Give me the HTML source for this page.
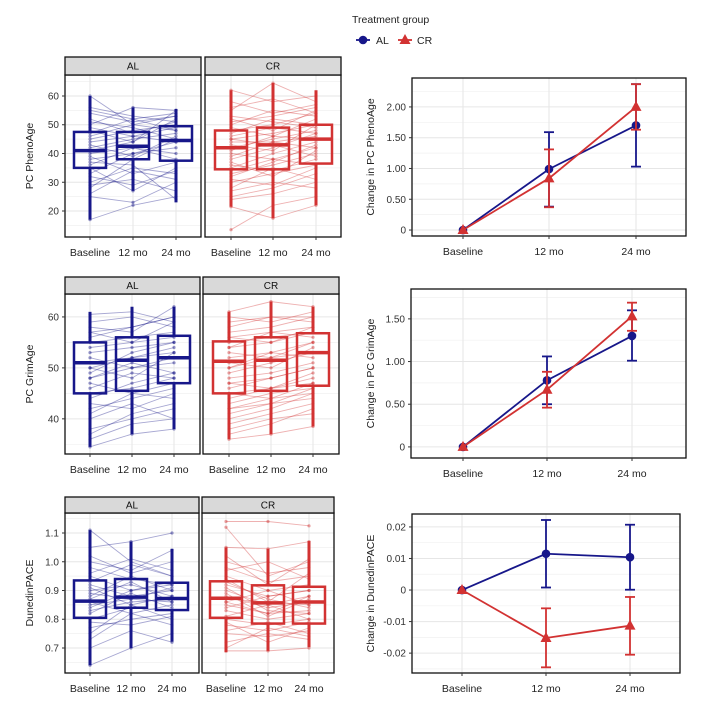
<!DOCTYPE html>
<html><head><meta charset="utf-8"><style>
html,body{margin:0;padding:0;background:#fff;width:717px;height:703px;overflow:hidden}
svg{display:block;font-family:"Liberation Sans",sans-serif}
</style></head><body>
<svg id="c" width="717" height="703" viewBox="0 0 717 703"></svg>
<script>
const timepoints=["Baseline","12 mo","24 mo"];
// box stats: [q1, median, q3, whiskerLow, whiskerHigh]
const phenoALBox=[[35,41,47.5,17,60],[38,42.5,47.5,27,56],[37.5,44.5,49.5,23,55.5]];
const phenoCRBox=[[34.5,42,48,21.5,62],[34.5,43,49,17.5,64.5],[36.5,45,50,22,62]];
const grimALBox=[[45,51,55,34.5,61],[45.5,51.5,56,37,62],[47,52,56.3,38,62]];
const grimCRBox=[[45,51.3,55.2,36,61],[45.5,51.5,56,37,63],[46.5,53,56.8,38.5,62]];
const dunALBox=[[.805,.863,.935,.64,1.11],[.84,.877,.94,.70,1.07],[.832,.872,.927,.722,1.045]];
const dunCRBox=[[.805,.873,.932,.685,1.05],[.785,.857,.918,.69,1.045],[.785,.86,.913,.703,1.072]];
// individual trajectories
const phenoALSubj=[[60,50,48],[17,22,25],[55,52,54],[25,23,30],[45,48,50],[38,40,44],[30,35,33],[50,56,55],[42,45,47],[35,27,35],[48,44,52],[40,42,38],[28,38,45],[52,47,51],[33,40,42],[46,50,53],[37,36,24],[44,46,49],[56,53,51],[29,31,27],[43,39,46],[51,49,45],[36,42,40],[47,52,48],[32,29,34],[41,44,55],[54,51,53],[39,33,37],[49,46,44],[26,34,31]];
const phenoCRSubj=[[62,58,60],[13.5,22,25],[21.5,17.5,22],[50,55,53],[45,47,50],[35,40,44],[40,38,42],[55,64.5,58],[30,33,36],[42,45,48],[48,50,54],[27,30,28],[38,42,47],[52,48,55],[33,36,40],[44,44,46],[25,28,33],[47,52,50],[36,34,38],[41,46,45],[58,54,57],[31,29,35],[46,49,47],[53,51,49],[39,44,42],[28,35,31],[49,46,52],[34,38,36],[43,41,50],[56,59,54],[24,26,30],[37,32,41],[51,53,56],[45,43,39],[32,37,43]];
const grimALSubj=[[60.5,61,59],[34.5,37,38],[57,58,60],[45,46,48],[50,52,53],[53,54,55],[42,44,46],[48,50,51],[55,56,57],[38,40,42],[47,45,47],[51,52,54],[44,47,49],[56,58,60],[40,43,40],[52,50,52],[49,53,55],[58,57,62],[36,39,40],[43,42,45],[54,55,59],[46,49,48],[59,60,58],[41,45,44],[50,48,53],[57,55,56],[37,41,43],[48,51,49]];
const grimCRSubj=[[61,63,62],[36,37,38.5],[59,60,60],[45,46,47],[50,52,53],[54,55,57],[42,44,45],[48,49,51],[56,57,58],[39,41,43],[47,48,50],[52,53,55],[44,46,48],[57,58,60],[41,43,44],[53,52,55],[49,51,53],[38,40,41],[46,48,50],[55,56,57],[60,59,61],[43,45,46],[51,50,54],[58,60,59],[40,42,45],[47,46,49],[54,57,56],[37,39,42],[50,53,52],[45,44,47],[56,55,58],[42,43,46]];
const dunALSubj=[[1.11,1.0,0.95],[0.64,0.70,0.75],[1.05,1.07,1.1],[0.9,0.92,0.88],[0.85,0.87,0.86],[0.8,0.84,0.83],[0.95,0.9,0.93],[0.77,0.80,0.82],[0.88,0.95,0.9],[0.83,0.86,0.87],[0.7,0.76,0.72],[0.92,0.88,0.9],[1.0,0.97,1.04],[0.86,0.82,0.85],[0.93,0.99,0.95],[0.75,0.85,0.8],[0.98,0.94,0.92],[0.82,0.89,0.84],[1.02,0.96,1.0],[0.87,0.93,0.86],[0.79,0.78,0.81],[0.91,0.85,0.88],[0.96,1.01,0.97],[0.84,0.9,0.92],[0.73,0.82,0.78],[0.89,0.87,0.91]];
const dunCRSubj=[[1.14,1.14,1.125],[1.12,0.95,1.0],[0.69,0.69,0.70],[1.05,1.045,1.07],[0.9,0.85,0.88],[0.85,0.82,0.83],[0.8,0.78,0.8],[0.95,0.9,0.92],[0.75,0.74,0.76],[0.87,0.86,0.85],[0.92,0.88,0.9],[0.83,0.8,0.82],[0.78,0.76,0.79],[0.98,0.93,0.95],[0.88,0.84,0.86],[0.72,0.75,0.73],[1.0,0.96,0.98],[0.86,0.82,0.88],[0.93,0.87,0.84],[0.81,0.85,0.8],[0.97,1.0,0.94],[0.89,0.81,0.87],[0.76,0.79,0.75],[0.84,0.88,0.9],[1.02,0.92,1.01],[0.91,0.83,0.82],[0.79,0.72,0.77],[0.86,0.9,0.85],[0.94,0.86,0.96],[0.7,0.77,0.74]];
// change means with CI [mean, lo, hi]
const phenoALChange=[[0,0,0],[0.99,0.38,1.59],[1.70,1.03,2.37]];
const phenoCRChange=[[0,0,0],[0.84,0.37,1.31],[2.0,1.63,2.37]];
const grimALChange=[[0,0,0],[0.78,0.50,1.06],[1.30,1.01,1.60]];
const grimCRChange=[[0,0,0],[0.67,0.46,0.88],[1.53,1.36,1.69]];
const dunALChange=[[0,0,0],[0.0115,0.0008,0.0222],[0.0104,0.0001,0.0207]];
const dunCRChange=[[0,0,0],[-0.0152,-0.0245,-0.0058],[-0.0113,-0.0205,-0.0022]];
const phenoTicks=[20,30,40,50,60], grimTicks=[40,50,60], dunTicks=[0.7,0.8,0.9,1.0,1.1];
const phenoChTicks=[0,0.5,1,1.5,2], grimChTicks=[0,0.5,1,1.5], dunChTicks=[-0.02,-0.01,0,0.01,0.02];
const phenoChLabels=["0","0.50","1.00","1.50","2.00"], grimChLabels=["0","0.50","1.00","1.50"], dunChLabels=["-0.02","-0.01","0","0.01","0.02"];

const AL="#17178a", CR="#d23232";
const svg=document.getElementById('c');
const NS="http://www.w3.org/2000/svg";
function el(tag,attrs,parent){const e=document.createElementNS(NS,tag);for(const k in attrs)e.setAttribute(k,attrs[k]);(parent||svg).appendChild(e);return e;}
function txt(s,attrs,parent){const e=el('text',attrs,parent);e.textContent=s;return e;}
function lin(d0,d1,r0,r1){return v=>r0+(v-d0)/(d1-d0)*(r1-r0);}

function facet(g,x0,x1,top,stripTop,bottom,yD,ticks,box,subj,col,label,xs,showY,fmt,name){
  const y=lin(yD[0],yD[1],bottom,top);
  const grp=el('g',{},g);
  
  
  for(let i=0;i<ticks.length;i++){
    el('line',{x1:x0,x2:x1,y1:y(ticks[i]),y2:y(ticks[i]),stroke:'#e6e6e6','stroke-width':1},grp);
    if(i<ticks.length-1){const m=(ticks[i]+ticks[i+1])/2;el('line',{x1:x0,x2:x1,y1:y(m),y2:y(m),stroke:'#f0f0f0','stroke-width':0.7},grp);}
  }
  const lo=ticks[0]-(ticks[1]-ticks[0])/2, hi=ticks[ticks.length-1]+(ticks[1]-ticks[0])/2;
  if(lo>yD[0]) el('line',{x1:x0,x2:x1,y1:y(lo),y2:y(lo),stroke:'#f0f0f0','stroke-width':0.7},grp);
  if(hi<yD[1]) el('line',{x1:x0,x2:x1,y1:y(hi),y2:y(hi),stroke:'#f0f0f0','stroke-width':0.7},grp);
  xs.forEach(xx=>el('line',{x1:xx,x2:xx,y1:top,y2:bottom,stroke:'#e6e6e6','stroke-width':1},grp));
  subj.forEach(s=>{
    const p=el('polyline',{points:s.map((v,i)=>xs[i]+','+y(v)).join(' '),fill:'none',stroke:col,'stroke-opacity':0.38,'stroke-width':0.9},grp);
    
    
    s.forEach((v,i)=>el('circle',{cx:xs[i],cy:y(v),r:1.6,fill:col,'fill-opacity':0.45},grp));
  });
  box.forEach((b,i)=>{
    const cx=xs[i],w=16;
    el('line',{x1:cx,x2:cx,y1:y(b[3]),y2:y(b[0]),stroke:col,'stroke-width':3},grp);
    el('line',{x1:cx,x2:cx,y1:y(b[2]),y2:y(b[4]),stroke:col,'stroke-width':3},grp);
    const r=el('rect',{x:cx-w,y:y(b[2]),width:2*w,height:y(b[0])-y(b[2]),fill:'none',stroke:col,'stroke-width':2.5},grp);
    
    
    el('line',{x1:cx-w,x2:cx+w,y1:y(b[1]),y2:y(b[1]),stroke:col,'stroke-width':3.5},grp);
  });
  el('rect',{x:x0,y:top,width:x1-x0,height:bottom-top,fill:'none',stroke:'#111','stroke-width':1.3},grp);
  const st=el('rect',{x:x0,y:stripTop,width:x1-x0,height:top-stripTop,fill:'#d9d9d9',stroke:'#111','stroke-width':1.3},grp);
  
  
  txt(label,{x:(x0+x1)/2,y:(top+stripTop)/2+3.5,'text-anchor':'middle','font-size':10,fill:'#111'},grp);
  xs.forEach((xx,i)=>{
    el('line',{x1:xx,x2:xx,y1:bottom,y2:bottom+3,stroke:'#333','stroke-width':1},grp);
    txt(timepoints[i],{x:xx,y:bottom+19,'text-anchor':'middle','font-size':10.5,fill:'#222'},grp);
  });
  if(showY){
    ticks.forEach(t=>{
      el('line',{x1:x0-3,x2:x0,y1:y(t),y2:y(t),stroke:'#333','stroke-width':1},grp);
      txt(fmt(t),{x:x0-6,y:y(t)+3.5,'text-anchor':'end','font-size':10,fill:'#333'},grp);
    });
  }
}

function changePlot(x0,x1,top,bottom,yD,ticks,labels,xs,al,cr,title,name){
  const y=lin(yD[0],yD[1],bottom,top);
  const g=el('g',{});
  
  
  for(let i=0;i<ticks.length;i++){
    el('line',{x1:x0,x2:x1,y1:y(ticks[i]),y2:y(ticks[i]),stroke:'#e6e6e6','stroke-width':1},g);
    if(i<ticks.length-1){const m=(ticks[i]+ticks[i+1])/2;el('line',{x1:x0,x2:x1,y1:y(m),y2:y(m),stroke:'#f0f0f0','stroke-width':0.7},g);}
  }
  const st=ticks[1]-ticks[0];
  [ticks[ticks.length-1]+st/2, ticks[0]-st/2].forEach(m=>{if(m<yD[1]&&m>yD[0])el('line',{x1:x0,x2:x1,y1:y(m),y2:y(m),stroke:'#f0f0f0','stroke-width':0.7},g);});
  xs.forEach(xx=>el('line',{x1:xx,x2:xx,y1:top,y2:bottom,stroke:'#e6e6e6','stroke-width':1},g));
  function series(data,col,tri,nm){
    const sg=el('g',{},g);
    
    
    data.forEach((d,i)=>{if(i>0){
      el('line',{x1:xs[i],x2:xs[i],y1:y(d[1]),y2:y(d[2]),stroke:col,'stroke-width':1.8},sg);
      el('line',{x1:xs[i]-5,x2:xs[i]+5,y1:y(d[1]),y2:y(d[1]),stroke:col,'stroke-width':1.8},sg);
      el('line',{x1:xs[i]-5,x2:xs[i]+5,y1:y(d[2]),y2:y(d[2]),stroke:col,'stroke-width':1.8},sg);
    }});
    el('polyline',{points:data.map((d,i)=>xs[i]+','+y(d[0])).join(' '),fill:'none',stroke:col,'stroke-width':1.8},sg);
    data.forEach((d,i)=>{
      const cx=xs[i],cy=y(d[0]);
      if(tri) el('polygon',{points:`${cx},${cy-6} ${cx-5.5},${cy+4} ${cx+5.5},${cy+4}`,fill:col},sg);
      else el('circle',{cx:cx,cy:cy,r:4.3,fill:col},sg);
    });
  }
  series(al,AL,false,'series-al');
  series(cr,CR,true,'series-cr');
  el('rect',{x:x0,y:top,width:x1-x0,height:bottom-top,fill:'none',stroke:'#111','stroke-width':1.3},g);
  ticks.forEach((t,i)=>{
    el('line',{x1:x0-3,x2:x0,y1:y(t),y2:y(t),stroke:'#333','stroke-width':1},g);
    txt(labels[i],{x:x0-6,y:y(t)+3.5,'text-anchor':'end','font-size':10,fill:'#333'},g);
  });
  xs.forEach((xx,i)=>{
    el('line',{x1:xx,x2:xx,y1:bottom,y2:bottom+3,stroke:'#333','stroke-width':1},g);
    txt(timepoints[i],{x:xx,y:bottom+19,'text-anchor':'middle','font-size':10.5,fill:'#222'},g);
  });
  const cy=(top+bottom)/2;
  const t=txt(title,{x:374,y:cy,'text-anchor':'middle','font-size':10.5,fill:'#222',transform:`rotate(-90 374 ${cy})`},g);
  
  
}

function yTitle(s,cy){const t=txt(s,{x:33,y:cy,'text-anchor':'middle','font-size':10.5,fill:'#222',transform:`rotate(-90 33 ${cy})`});
  
  }

const f0=v=>String(v), f1=v=>v.toFixed(1);
facet(svg,65,201,75,57,237,[10.96,67.3],phenoTicks,phenoALBox,phenoALSubj,AL,'AL',[90,133,176],true,f0,'pheno-al-panel');
facet(svg,205,341,75,57,237,[10.96,67.3],phenoTicks,phenoCRBox,phenoCRSubj,CR,'CR',[231,273,316],false,f0,'pheno-cr-panel');
yTitle('PC PhenoAge',156);
facet(svg,65,200,294,277,454,[33.1,64.5],grimTicks,grimALBox,grimALSubj,AL,'AL',[90,132,174],true,f0,'grim-al-panel');
facet(svg,203,339,294,277,454,[33.1,64.5],grimTicks,grimCRBox,grimCRSubj,CR,'CR',[229,271,313],false,f0,'grim-cr-panel');
yTitle('PC GrimAge',374);
facet(svg,65,199,513,497,673,[0.613,1.1696],dunTicks,dunALBox,dunALSubj,AL,'AL',[90,131,172],true,f1,'dunedin-al-panel');
facet(svg,202,334,513,497,673,[0.613,1.1696],dunTicks,dunCRBox,dunCRSubj,CR,'CR',[226,268,309],false,f1,'dunedin-cr-panel');
yTitle('DunedinPACE',593);
changePlot(412,686,78,236,[-0.097,2.47],phenoChTicks,phenoChLabels,[463,549,636],phenoALChange,phenoCRChange,'Change in PC PhenoAge','pheno-change-chart');
changePlot(411,686,289,458,[-0.13,1.85],grimChTicks,grimChLabels,[463,547,632],grimALChange,grimCRChange,'Change in PC GrimAge','grim-change-chart');
changePlot(412,680,514,673,[-0.0263,0.0241],dunChTicks,dunChLabels,[462,546,630],dunALChange,dunCRChange,'Change in DunedinPACE','dunedin-change-chart');
const lg=el('g',{});


txt('Treatment group',{x:352,y:23,'font-size':10.5,fill:'#222'},lg);
el('line',{x1:356,x2:370,y1:40,y2:40,stroke:AL,'stroke-width':1.8},lg);
el('circle',{cx:363,cy:40,r:4.3,fill:AL},lg);
txt('AL',{x:376,y:44,'font-size':10.5,fill:'#222'},lg);
el('line',{x1:398,x2:412,y1:40,y2:40,stroke:CR,'stroke-width':1.8},lg);
el('polygon',{points:'405,34 399.5,44 410.5,44',fill:CR},lg);
txt('CR',{x:417,y:44,'font-size':10.5,fill:'#222'},lg);
</script>
</body></html>
